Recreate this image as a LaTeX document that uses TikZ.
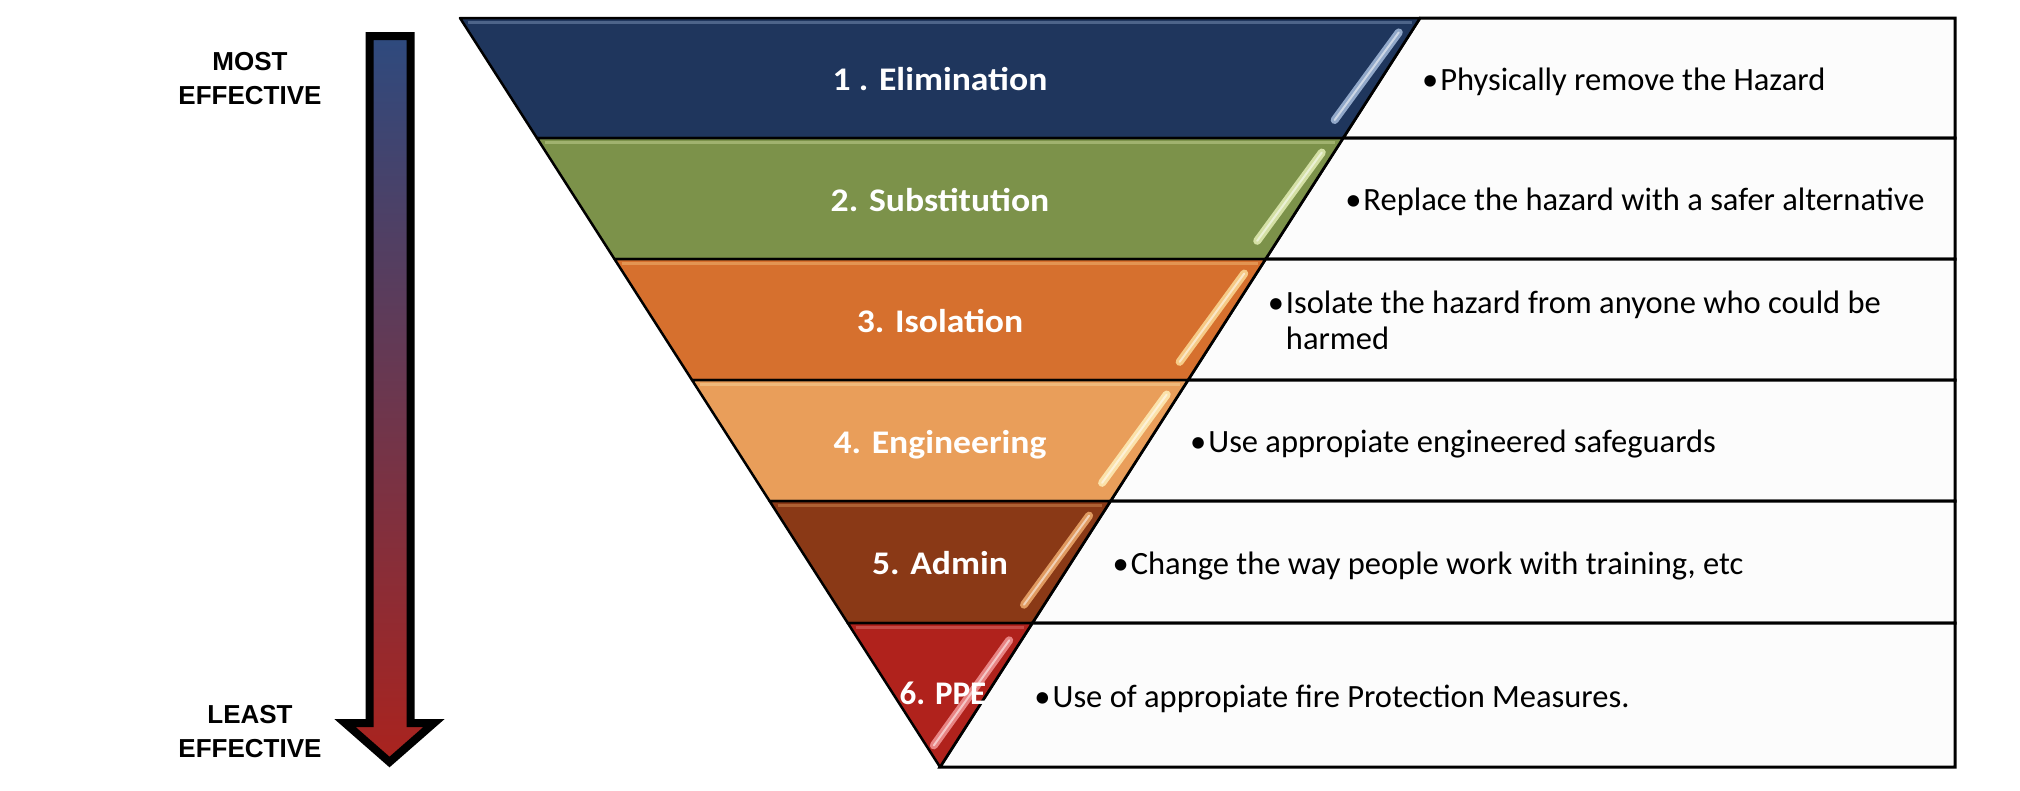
\documentclass[tikz,border=0pt]{standalone}
\usepackage{fontspec}
\setmainfont{Carlito}
\newfontfamily\stepfont[FakeStretch=1.08]{Carlito}
\newfontfamily\sidefont{Liberation Sans}

\definecolor{elimcol}{RGB}{31,54,93}
\definecolor{elimhl}{RGB}{165,188,220}
\definecolor{substcol}{RGB}{124,146,74}
\definecolor{substhl}{RGB}{228,238,182}
\definecolor{isolcol}{RGB}{214,112,46}
\definecolor{isolhl}{RGB}{252,218,150}
\definecolor{engcol}{RGB}{233,158,90}
\definecolor{enghl}{RGB}{255,238,185}
\definecolor{admcol}{RGB}{138,57,22}
\definecolor{admhl}{RGB}{240,172,110}
\definecolor{ppecol}{RGB}{176,34,28}
\definecolor{ppehl}{RGB}{242,150,150}
\definecolor{rowfill}{RGB}{252,252,252}
\definecolor{arrowtop}{RGB}{46,74,126}
\definecolor{arrowbot}{RGB}{170,35,30}

\begin{document}
\begin{tikzpicture}[x=1pt, y=-1pt,
    band/.style={draw=black, line width=2.5pt, line join=round},
    rowbox/.style={draw=black, line width=3pt, fill=rowfill},
    gloss/.style={line width=8pt, line cap=round, opacity=0.85},
    bandlabel/.style={text=white, font=\stepfont\fontsize{33}{40}\selectfont\bfseries, inner sep=0pt, text height=23pt, text depth=7pt},
    bullettext/.style={font=\fontsize{32.5}{36}\selectfont, anchor=west, inner sep=0pt},
    sidelabel/.style={font=\sidefont\bfseries\fontsize{26}{34}\selectfont, align=center, inner sep=0pt}
  ]
  \useasboundingbox (0,0) rectangle (2020,790);

  % effectiveness arrow
  \shadedraw[top color=arrowtop, bottom color=arrowbot, line width=8pt, line join=miter]
    (369.5,36) -- (410.5,36) -- (410.5,723) -- (434,723) -- (389.5,762)
    -- (345,723) -- (369.5,723) -- cycle;
  \node[sidelabel] (most) at (250,78.5) {MOST\\EFFECTIVE};
  \node[sidelabel] (least) at (250,732) {LEAST\\EFFECTIVE};

  % funnel and table
  \foreach \i/\ya/\yb/\col/\hl/\dx/\lab/\txt in {
      1/18/138/elimcol/elimhl/0/{1 . Elimination}/{Physically remove the Hazard},
      2/138/259/substcol/substhl/0/{2. Substitution}/{Replace the hazard with a safer alternative},
      3/259/380/isolcol/isolhl/0/{3. Isolation}/{Isolate the hazard from anyone who could be\\&harmed},
      4/380/501/engcol/enghl/0/{4. Engineering}/{Use appropiate engineered safeguards},
      5/501/623/admcol/admhl/0/{5. Admin}/{Change the way people work with training, etc},
      6/623/767/ppecol/ppehl/3/{\normalfont\bfseries 6. PPE}/{Use of appropiate fire Protection Measures.}}{
    \pgfmathsetmacro\wa{0.64085*(767-\ya)}
    \pgfmathsetmacro\wb{0.64085*(767-\yb)}
    \pgfmathsetmacro\ym{(\ya+\yb)/2}
    \pgfmathsetmacro\ga{\ya+0.12*(\yb-\ya)}
    \pgfmathsetmacro\gb{\ya+0.85*(\yb-\ya)}
    \pgfmathsetmacro\xga{940+0.64085*(767-\ga)-12}
    \pgfmathsetmacro\xgb{940+0.64085*(767-\gb)-20}
    \filldraw[rowbox] (940+\wa,\ya) -- (1955,\ya) -- (1955,\yb) -- (940+\wb,\yb) -- cycle;
    \filldraw[band, fill=\col] (940-\wa,\ya) -- (940+\wa,\ya) -- (940+\wb,\yb) -- (940-\wb,\yb) -- cycle;
    \draw[\hl, opacity=0.35, line width=3pt] (940-\wa+8,\ya+4) -- (940+\wa-8,\ya+4);
    \draw[gloss, \hl] (\xga,\ga) -- (\xgb,\gb);
    \draw[white, line width=2pt, line cap=round, opacity=0.55] (\xga,\ga) -- (\xgb,\gb);
    \node[bandlabel] (step\i) at (940+\dx,\ym+4.7-\dx) {\lab};
    \node[bullettext] (txt\i) at (940+\wa+2,\ym+5)
      {\begin{tabular}{@{}l@{\hspace{2pt}}l@{}}•&\txt\end{tabular}};
  }
\end{tikzpicture}
\end{document}
